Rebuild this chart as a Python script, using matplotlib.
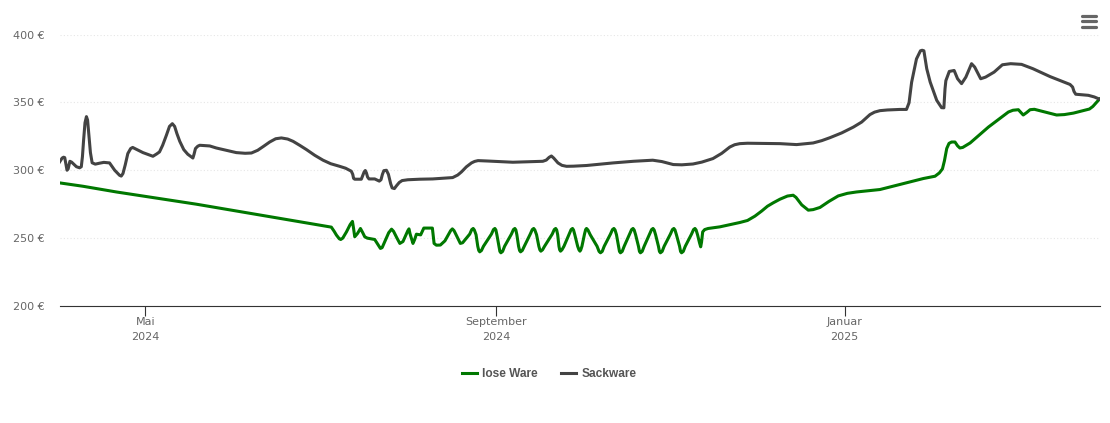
import matplotlib
matplotlib.use('Agg')
import matplotlib.pyplot as plt
from matplotlib.lines import Line2D

# days since 1 April 2024, prices in euro
sack_days = [0, 0.9, 1.4, 1.8, 2.2, 2.6, 3.0, 3.6, 4.2, 5.9, 7.0, 7.6, 8.0, 8.4, 8.9, 9.4, 9.8, 10.3, 10.8, 11.4,
             12.5, 14, 15.5, 17.5, 19.3, 21, 21.6, 22.2, 23, 23.9, 24.9, 25.6, 29.2, 32.7, 34, 35, 36.1, 37.4, 38.5,
             39.5, 40.3, 41.1, 42.1, 43.5, 44.9, 46.7, 47.1, 47.6, 48.4, 49.1, 52.6, 54.9, 61.9, 65, 67.2, 69.4,
             71.5, 73.6, 75.7, 77.7, 79.9, 81.8, 84.1, 86.5, 89.4, 92.3, 95, 98.1, 100.2, 102.2, 102.7, 103, 103.4,
             105.7, 106.2, 106.7, 107.1, 107.5, 107.9, 108.4, 110.4, 112, 112.6, 113.1, 113.6, 114.5, 115.2, 116,
             116.5, 117.3, 118, 119, 120, 122, 126.2, 130.7, 137.7, 139.5, 140.8, 142.5, 144.3, 145.4, 146.6, 150,
             158.8, 169.3, 170.5, 171.5, 172.3, 173.1, 174.6, 176, 177.6, 180, 184.6, 193.9, 201, 207.8, 211, 215,
             218, 221.9, 225, 228.9, 232, 234.8, 236.5, 238.3, 241, 252.4, 258.2, 264, 267, 269.9, 274, 278.1, 281,
             283.9, 285.5, 287.4, 290, 294.4, 296.7, 297.6, 298.5, 300.2, 301.6, 302.2, 302.8, 303.8, 305, 307.3,
             309, 309.8, 310.2, 310.5, 311.7, 313.4, 314.6, 316, 317.5, 319.5, 320.6, 322.7, 324.4, 327.4, 330.3,
             333.2, 337, 341, 347, 354, 354.9, 355.4, 356, 358, 360.4, 362.5, 364.3]
sack_price = [306.1, 309, 309.6, 309.3, 304.5, 300, 301, 306.6, 306, 302.6, 301.8, 302.6, 310, 322, 335, 339.5, 337, 325, 313, 305.5,
              304.5, 305.2, 305.8, 305.4, 300, 296.3, 295.7, 297.6, 304, 312.3, 316, 316.8, 313, 310.3, 312, 313.5, 318.4, 325.7, 332.3,
              334.3, 332.3, 327, 321.3, 315.2, 311.8, 309, 311.8, 316, 317.7, 318.4, 317.9, 316.4, 313, 312.5, 312.7, 314.7,
              317.7, 320.8, 323.2, 323.8, 323, 321.3, 318.4, 315.2, 311, 307.4, 304.8, 302.9, 301.5, 299.3, 297, 294, 293.4,
              293.4, 296, 298.8, 299.8, 298, 295, 293.6, 293.6, 292, 293, 297, 299.7, 300, 297, 290,
              287, 286.5, 288.5, 291, 292.4, 293, 293.4, 293.6, 294.6, 296.5, 298.8, 302.5, 305.4, 306.5, 307.1, 306.8,
              305.9, 306.6, 307.5, 309.5, 310.5, 309, 305.4, 303.6, 302.9, 303, 303.5, 305.4, 306.6, 307.4, 306.4, 304.2,
              304, 304.6, 306, 308.6, 312.5, 317.1, 318.8, 319.6, 319.9, 319.6, 318.9, 320.1, 321.8, 324, 327.5, 331.8, 335.5,
              341, 342.8, 343.9, 344.4, 344.8, 344.8, 349.7, 364.8, 382, 388, 388.4, 388, 374.8, 365, 351.5,
              346.1, 346, 360, 366, 372.8, 373.5, 367.4, 363.8, 368.6, 378.5, 376, 367.4, 368.6, 372.3, 377.7,
              378.5, 378, 374.8, 369, 363.2, 361.3, 358, 356, 355.6, 355.2, 354, 352.4]

lose_days = [0, 8.2, 19.9, 47.9, 95.2, 96.2, 97, 98, 98.5, 99.2, 100.5, 101.8, 102.6, 103, 103.4, 104.4, 105.4, 106.2, 106.9,
             107.8, 110.4, 111.3, 112.4, 113, 113.9, 115.3, 116.3, 117, 118.2, 119.2, 120.3, 122, 122.4, 122.8, 123.8,
             124.4, 125, 126.5, 127.6, 130.6, 131.2, 132, 133.4, 135, 137, 137.6, 138.2, 140.4, 141.2, 143.7, 144.4, 144.9, 145.3, 145.9,
             146.5, 146.85, 147.2, 147.8, 148.5, 151.3, 152, 152.5, 152.85, 153.2, 153.9, 154.25, 154.6, 155.2, 155.9,
             158.3, 159, 159.5, 159.85, 160.2, 160.8, 161.15, 161.5, 162.1, 162.8, 164.9, 165.6, 166.1, 166.5, 167.1,
             167.9, 168.25, 168.6, 169.2, 169.9, 172.6, 173.3, 173.8, 174.15, 174.5, 174.95, 175.2, 175.5, 176, 176.7,
             178.5, 179.2, 179.7, 180.05, 180.5, 181.5, 181.95, 182.3, 182.6, 183, 183.9, 184.3, 184.6, 185.1, 185.9,
             188.3, 189, 189.5, 190.1, 190.8, 193, 193.7, 194.2, 194.6, 195.1, 195.8, 196.15, 196.5, 197.1, 197.8,
             199.7, 200.4, 200.9, 201.3, 201.8, 202.8, 203.15, 203.5, 204.1, 204.8, 206.7, 207.4, 207.9, 208.3, 208.8,
             209.8, 210.15, 210.5, 211.1, 211.8, 214, 214.7, 215.2, 215.6, 216.1, 217.2, 217.55, 217.9, 218.5, 219.2,
             221.4, 222.1, 222.6, 223, 223.5, 224.2, 224.6, 224.9, 225.3, 226, 227.2, 231.3, 238.3, 241, 243.6, 246, 248, 250,
             252.4, 255, 257, 258, 260, 262.3, 264, 266.4, 269.5, 272.8, 276, 279.2, 287.4, 302.6, 306.7, 308.2, 309.3,
             310, 310.8, 311.6, 312.5, 313.7, 314.6, 315.4, 316.4, 319, 325.4, 332.4, 334, 335.9, 336.8, 337.6, 338.8, 340,
             341.5, 345, 349.3, 352, 355.2, 360.8, 362, 364.3]
lose_price = [290.7, 288.2, 284, 275, 258.1, 255, 252.2, 249.5, 249, 250, 254.6, 260, 262.3, 257, 251, 253.5, 257.1, 254, 251,
              250, 249, 246, 242.4, 243, 247.3, 254, 256.6, 255, 250, 246.1, 247.5, 255.5, 256.8, 253, 246.1,
              249, 252.9, 252.4, 257.4, 257.4, 246.1, 244.8, 244.9, 248, 255.5, 256.8, 255.5, 246.1, 246.6, 253, 256.3, 257.1, 256, 252.5,
              244, 240.9, 239.9, 240.9, 244, 253, 256.3, 257.1, 256, 252.5, 244, 240.2, 239.2, 240.2, 244,
              253, 256.3, 257.1, 256, 252.5, 244, 240.9, 239.9, 240.9, 244, 253, 256.3, 257.1, 256, 252.5,
              244, 241.4, 240.4, 241.4, 244, 253, 256.3, 257.1, 256, 252.5, 244, 241.4, 240.4, 241.4, 244,
              253, 256.3, 257.1, 256, 252.5, 244, 241.4, 240.4, 241.4, 244, 253, 256.3, 257.1, 256, 252.5,
              244, 240.2, 239.2, 240.2, 244, 253, 256.3, 257.1, 256, 252.5, 244, 240.2, 239.2, 240.2, 244,
              253, 256.3, 257.1, 256, 252.5, 244, 240.2, 239.2, 240.2, 244, 253, 256.3, 257.1, 256, 252.5,
              244, 240.2, 239.2, 240.2, 244, 253, 256.3, 257.1, 256, 252.5, 244, 240.2, 239.2, 240.2, 244,
              253, 256.3, 257.1, 256, 252.5, 246.5, 243.6, 247, 254.6, 256.3, 257.1, 258.3, 261.5, 263, 266.2, 270, 273.5, 276,
              278.7, 281, 281.6, 280, 274.5, 270.6, 271, 272.6, 277, 281.1, 283, 284, 285.8, 293.9, 295.6, 298, 301,
              307, 316, 319.8, 320.8, 320.8, 318, 316.4, 316.8, 320.1, 331.8, 342.9, 344.2, 344.6, 342.5, 340.7, 342.5, 344.6,
              344.9, 343, 340.7, 341, 342.1, 345.1, 347, 352.4]

y_ticks = [200, 250, 300, 350, 400]
y_labels = ['200 €', '250 €', '300 €', '350 €', '400 €']
x_ticks = [30, 153, 275]
x_labels = ['Mai\n2024', 'September\n2024', 'Januar\n2025']

W, H = 1110, 423
fig = plt.figure(figsize=(W / 100, H / 100), dpi=100)
ax = fig.add_axes([59.6 / W, 1 - 306 / H, 1040.4 / W, 271.5 / H])

ax.plot(lose_days, lose_price, color='#007800', lw=2.2, label='lose Ware', solid_joinstyle='round')
ax.plot(sack_days, sack_price, color='#434343', lw=2.2, label='Sackware', solid_joinstyle='round')

ax.set_xlim(0, 364.5)
ax.set_ylim(200, 400)
ax.set_xticks(x_ticks)
ax.set_xticklabels(x_labels, linespacing=1.65)
ax.set_yticks(y_ticks)
ax.set_yticklabels(y_labels, va='center_baseline')
ax.tick_params(axis='x', length=7, width=0.8, color='#333333', labelcolor='#666666', labelsize=8, pad=1)
ax.tick_params(axis='y', length=0, labelcolor='#666666', labelsize=8, pad=11)
ax.grid(axis='y', color='#e6e6e6', lw=0.8, ls=(0, (1, 2)))
ax.set_axisbelow(True)
for s in ['top', 'left', 'right']:
    ax.spines[s].set_visible(False)
ax.spines['bottom'].set_color('#333333')
ax.spines['bottom'].set_linewidth(0.8)

leg = fig.legend(loc='center', bbox_to_anchor=(549 / W, 1 - 374 / H), ncol=2, frameon=False,
                 handlelength=1.25, handletextpad=0.45, columnspacing=1.95,
                 prop={'family': 'Liberation Sans', 'size': 8.6, 'weight': 'bold'}, labelcolor='#555555')

# menu icon, top right
for yy in [16, 21.5, 27]:
    fig.add_artist(Line2D([1082 / W, 1096 / W], [1 - yy / H, 1 - yy / H], color='#666666', lw=2.3,
                          solid_capstyle='round'))

fig.savefig('out.png', dpi=100)
